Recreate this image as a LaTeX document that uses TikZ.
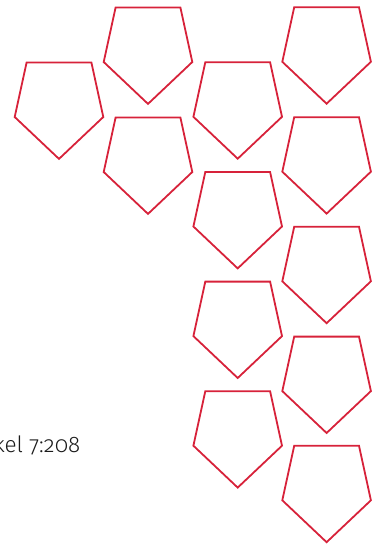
\documentclass[tikz,border=0pt]{standalone}
\usepackage{fontspec}
\setmainfont{Fira Sans Light}[Numbers=OldStyle]
\definecolor{shieldred}{HTML}{D7223A}
\definecolor{inkcolor}{HTML}{1A1A1A}

\begin{document}
\begin{tikzpicture}[
    x=1pt, y=-1pt,
    shield/.style={draw=shieldred, line width=1.8pt, line join=miter},
    ref/.style={font=\fontsize{22.5}{26}\selectfont, text=inkcolor, inner sep=0pt},
]
\useasboundingbox (0,0) rectangle (377,548);
% one shield, given its centre x and its top y
\def\shield#1#2{%
    \draw[shield] ({#1-32.4},#2) -- ({#1+32.4},#2) -- ({#1+44.3},{#2+54.5})
        -- (#1,{#2+96.4}) -- ({#1-44.3},{#2+54.5}) -- cycle;}

% the four columns of shields
\foreach \top in {62.5}{\shield{59}{\top}}
\foreach \top in {7.5, 117.5}{\shield{148}{\top}}
\foreach \top in {62.3, 172, 281.6, 391.2}{\shield{237.7}{\top}}
\foreach \top in {7.3, 117.2, 226.8, 336.6, 445.8}{\shield{326.6}{\top}}

% the cut reference
\node[ref, anchor=base east] (verse) at (80.5,452.7) {kel 7:208};
\end{tikzpicture}
\end{document}
